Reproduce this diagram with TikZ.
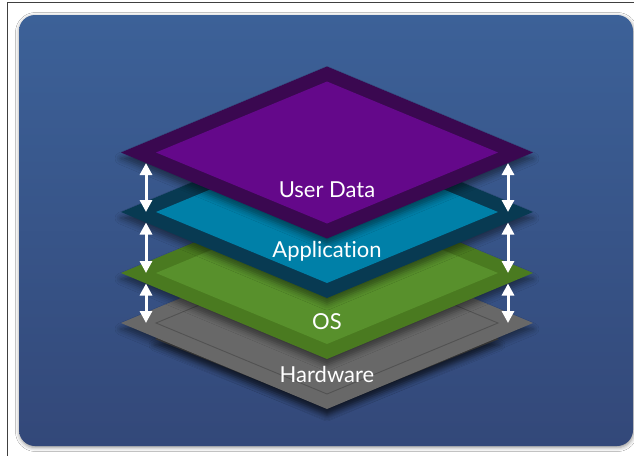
\documentclass[tikz,border=0pt]{standalone}
\usepackage{fontspec}
\setmainfont{Lato}[Ligatures=NoCommon]
\usetikzlibrary{arrows.meta,shadows.blur}

\definecolor{bgtop}{RGB}{60,97,152}
\definecolor{bgbot}{RGB}{51,72,121}
\definecolor{udout}{RGB}{58,8,80}
\definecolor{udin}{RGB}{100,8,138}
\definecolor{appout}{RGB}{8,58,82}
\definecolor{appin}{RGB}{0,128,168}
\definecolor{osout}{RGB}{74,122,32}
\definecolor{osin}{RGB}{88,144,44}
\definecolor{hwout}{RGB}{104,104,104}
\definecolor{hwline}{RGB}{82,82,82}
\definecolor{hwslab}{RGB}{88,88,88}

\begin{document}
\begin{tikzpicture}[x=1pt,y=-1pt]
	\tikzstyle{every node}=[font=\fontsize{22}{26}\selectfont,text=white,inner sep=0pt];
	\tikzstyle{frame}=[draw=black!75,line width=0.8pt];
	\tikzstyle{panel}=[rounded corners=16pt,top color=bgtop,bottom color=bgbot,blur shadow={shadow xshift=0.5pt,shadow yshift=-1.5pt,shadow blur radius=4pt,shadow opacity=45}];
	\tikzstyle{plate}=[blur shadow={shadow xshift=0pt,shadow yshift=-6pt,shadow blur radius=6pt,shadow opacity=45}];
	\tikzstyle{updown}=[draw=white,line width=3pt,{Triangle[width=12pt,length=12pt]}-{Triangle[width=12pt,length=12pt]}];
	\useasboundingbox (0,0) rectangle (634,456);
	\fill[white] (0,0) rectangle (634,456);
	\draw[frame] (634,2) -- (7,2) -- (7,456);
	\path[panel] (19,15) rectangle (633,446);
	% bottom slab under the hardware plate
	\fill[plate,hwslab,shift={(327,339)}] (-172,0) -- (0,-69) -- (172,0) -- (0,69) -- cycle;
	% the four plates, bottom to top
	\foreach \n/\y/\co/\ci/\cl in {hw/323/hwout/hwout/hwline, os/273/osout/osin/none, app/212/appout/appin/none, ud/152.5/udout/udin/none}{
		\coordinate (\n) at (327,\y);
		\fill[plate,\co,shift={(327,\y)}] (-206,0) -- (0,-86) -- (206,0) -- (0,86) -- cycle;
		\path[fill=\ci,draw=\cl,line width=0.9pt,shift={(327,\y)}] (-171,0) -- (0,-71) -- (171,0) -- (0,71) -- cycle;
	}
	\node[anchor=base] (udl) at (327,197) {User Data};
	\node[anchor=base] (appl) at (327,257) {Application};
	\node[anchor=base] (osl) at (327,329) {OS};
	\node[anchor=base] (hwl) at (327,382) {Hardware};
	\foreach \a/\b in {ud/app,app/os,os/hw}{
		\draw[updown] ([xshift=-181pt,yshift=-10.5pt]\a) -- ([xshift=-181pt]\b);
		\draw[updown] ([xshift=181pt,yshift=-10.5pt]\a) -- ([xshift=181pt]\b);
	}
\end{tikzpicture}
\end{document}
